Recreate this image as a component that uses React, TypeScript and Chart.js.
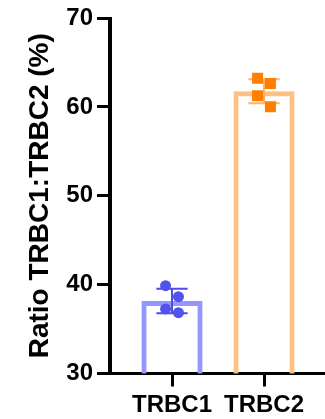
import React, { useEffect, useRef } from "react";
import { Chart, registerables } from "chart.js";

Chart.register(...registerables);

const categories = ["TRBC1", "TRBC2"];
const trbc1Values = [39.88, 38.64, 37.26, 36.84];
const trbc2Values = [63.21, 62.64, 61.25, 60.01];
const means = [38.16, 61.76];
const sds = [1.38, 1.36];
const jitter = [-0.07, 0.07, -0.07, 0.07];
const yTicks = [30, 40, 50, 60, 70];
const yTitle = "Ratio TRBC1:TRBC2 (%)";
const xMin = -0.674;
const xMax = 1.663;
const yMin = 30;
const yMax = 70;

const barBorder = ["#9595ff", "#ffc083"];
const pointColor = ["#5252ee", "#ff8000"];
const errColor = ["#4e4ee6", "#ffb468"];
const capHalf = 0.17;

function errorBarData(i: number) {
  const m = means[i];
  const s = sds[i];
  return [
    { x: i, y: m - s },
    { x: i, y: m + s },
    { x: i, y: NaN },
    { x: i - capHalf, y: m + s },
    { x: i + capHalf, y: m + s },
    { x: i, y: NaN },
    { x: i - capHalf, y: m - s },
    { x: i + capHalf, y: m - s },
  ];
}

export default function App() {
  const ref = useRef<HTMLCanvasElement | null>(null);
  useEffect(() => {
    if (!ref.current) return;
    const font = "'Liberation Sans', Arial, sans-serif";
    const chart = new Chart(ref.current, {
      type: "bar",
      data: {
        datasets: [
          {
            type: "line",
            data: [
              { x: xMin, y: yMin },
              { x: xMin, y: yMax },
            ],
            borderColor: "#000000",
            borderWidth: 4,
            pointRadius: 0,
            clip: false,
            order: -1,
          } as any,
          {
            type: "scatter",
            data: trbc1Values.map((v, k) => ({ x: 0 + jitter[k], y: v })),
            pointStyle: "circle",
            pointRadius: 5.5,
            backgroundColor: pointColor[0],
            borderColor: pointColor[0],
            borderWidth: 0,
            order: 0,
          } as any,
          {
            type: "scatter",
            data: trbc2Values.map((v, k) => ({ x: 1 + jitter[k], y: v })),
            pointStyle: "rect",
            pointRadius: 7.8,
            backgroundColor: pointColor[1],
            borderColor: pointColor[1],
            borderWidth: 0,
            order: 0,
          } as any,
          {
            type: "line",
            data: errorBarData(0),
            borderColor: errColor[0],
            borderWidth: 2,
            pointRadius: 0,
            spanGaps: false,
            order: 1,
          } as any,
          {
            type: "line",
            data: errorBarData(1),
            borderColor: errColor[1],
            borderWidth: 2,
            pointRadius: 0,
            spanGaps: false,
            order: 1,
          } as any,
          {
            type: "bar",
            data: means.map((m, i) => ({ x: i, y: m })),
            backgroundColor: "rgba(255,255,255,0)",
            borderColor: barBorder,
            borderWidth: 5,
            borderSkipped: "start",
            barPercentage: 0.665,
            categoryPercentage: 1,
            order: 2,
          } as any,
        ],
      },
      options: {
        responsive: false,
        animation: false,
        layout: { autoPadding: false, padding: { top: 18, left: 0, right: 0, bottom: 0 } },
        plugins: {
          legend: { display: false },
          tooltip: { enabled: false },
        },
        scales: {
          x: {
            type: "linear",
            offset: false,
            min: xMin,
            max: xMax,
            afterBuildTicks: (scale: any) => {
              scale.ticks = categories.map((_, i) => ({ value: i }));
            },
            afterFit: (scale: any) => {
              scale.height = 45.5;
              scale.paddingLeft = 0;
              scale.paddingRight = 0;
            },
            ticks: {
              autoSkip: false,
              maxRotation: 0,
              padding: 4,
              color: "#000",
              font: { family: font, size: 24, weight: "bold" },
              callback: (v: any) => categories[Math.round(Number(v))] ?? "",
            },
            grid: {
              offset: false,
              drawOnChartArea: false,
              tickLength: 13,
              tickWidth: 3,
              tickColor: "#000",
            },
            border: { display: true, color: "#000", width: 3 },
          },
          y: {
            type: "linear",
            min: yMin,
            max: yMax,
            afterBuildTicks: (scale: any) => {
              scale.ticks = yTicks.map((v) => ({ value: v }));
            },
            afterFit: (scale: any) => {
              scale.width = 110;
              scale.paddingTop = 0;
              scale.paddingBottom = 0;
            },
            ticks: {
              padding: 4,
              color: "#000",
              font: { family: font, size: 24, weight: "bold" },
            },
            grid: {
              drawOnChartArea: false,
              tickLength: 13,
              tickWidth: 3,
              tickColor: "#000",
            },
            border: { display: true, color: "#000", width: 3 },
            title: {
              display: true,
              text: yTitle,
              color: "#000",
              font: { family: font, size: 28, weight: "bold" },
              padding: { top: 23, bottom: 0 },
            },
          },
        },
      } as any,
    });
    return () => chart.destroy();
  }, []);
  return (
    <div style={{ position: "absolute", left: 0, top: 0, width: 325, height: 419, background: "#fff" }}>
      <canvas ref={ref} width={325} height={419} style={{ display: "block" }} />
    </div>
  );
}
